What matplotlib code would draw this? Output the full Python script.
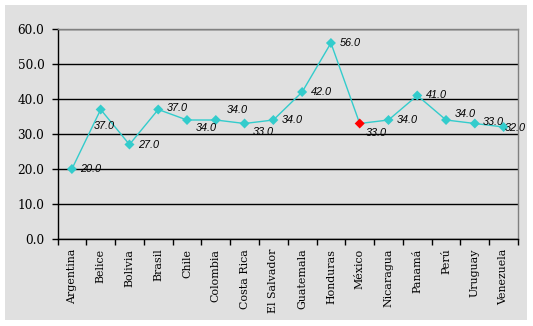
import matplotlib.pyplot as plt
from matplotlib.patches import Rectangle
import numpy as np

paises = ['Argentina', 'Belice', 'Bolivia', 'Brasil', 'Chile', 'Colombia',
          'Costa Rica', 'El Salvador', 'Guatemala', 'Honduras', 'México',
          'Nicaragua', 'Panamá', 'Perú', 'Uruguay', 'Venezuela']
valores = [20.0, 37.0, 27.0, 37.0, 34.0, 34.0, 33.0, 34.0, 42.0, 56.0,
           33.0, 34.0, 41.0, 34.0, 33.0, 32.0]
destacado = 'México'

# label offsets (points) - as placed in the original
offs = [(6, 0), (-5, -12), (6, 0), (6, 1), (6, -6), (8, 7), (6, -6), (6, 0),
        (6, 0), (6, 0), (4, -7), (6, 0), (6, 0), (6, 4), (6, 1), (1, -1)]

gris = '#E0E0E0'
turq = '#33CCCC'

fig = plt.figure(figsize=(5.33, 3.26), dpi=100, facecolor='white')
fig.patches.append(Rectangle((5/533, 6/326), 522/533, 315/326,
                             transform=fig.transFigure, facecolor=gris,
                             edgecolor='none', zorder=-10))
ax = fig.add_axes([57.5/533, (326-239)/326, (518-57.5)/533, (239-29)/326])
ax.set_facecolor(gris)
ax.set_zorder(1)

x = np.arange(len(paises))
ax.plot(x, valores, color=turq, lw=1, zorder=3)
cols = ['red' if p == destacado else turq for p in paises]
ax.scatter(x, valores, marker='D', s=26, c=cols, zorder=4, linewidths=0)

for i, v in enumerate(valores):
    ax.annotate('%.1f' % v, (x[i], v), xytext=offs[i], textcoords='offset points',
                ha='left', va='center', fontsize=7.8, style='italic',
                family='Liberation Sans', color='black', zorder=5)

ax.set_xlim(-0.5, len(paises) - 0.5)
ax.set_ylim(0, 60)
ax.set_yticks(np.arange(0, 61, 10))
ax.set_yticklabels(['%.1f' % t for t in np.arange(0, 61, 10)],
                   family='DejaVu Serif', fontsize=8.7)
ax.yaxis.grid(True, color='black', lw=1)
ax.set_axisbelow(True)

ax.set_xticks(x)
ax.set_xticklabels(paises, rotation=90, family='DejaVu Serif', fontsize=7.9,
                   va='top')
ax.set_xticks(np.arange(-0.5, len(paises)), minor=True)
ax.tick_params(axis='x', which='major', length=0, pad=7)
ax.tick_params(axis='x', which='minor', length=4, width=1, direction='out')
ax.tick_params(axis='y', length=4, width=1, direction='out', pad=5.5)

for s in ['top', 'right']:
    ax.spines[s].set_color('#808080')
for s in ['left', 'bottom']:
    ax.spines[s].set_color('black')
for s in ax.spines.values():
    s.set_linewidth(1)

fig.savefig('out.png', dpi=100, facecolor='white')
